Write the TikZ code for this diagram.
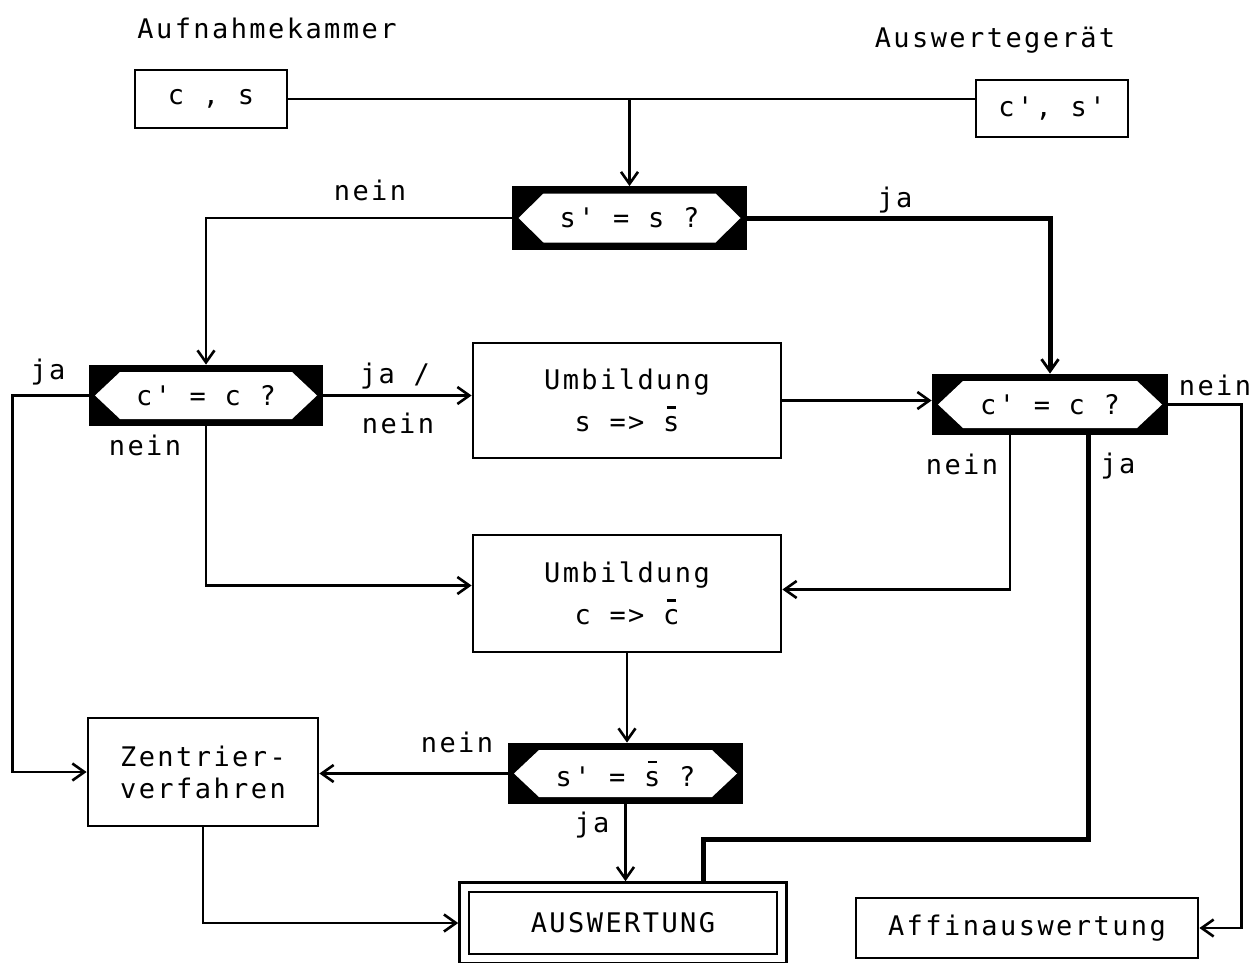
\documentclass[tikz,border=0pt]{standalone}
\usepackage{fontspec}
\setmonofont{DejaVu Sans Mono}[LetterSpace=9]
\usetikzlibrary{arrows.meta,fit}
\newcommand\barred[1]{\leavevmode\rlap{\kern0.14em\raisebox{0.85em}{\rule{0.32em}{2.6pt}}}#1}
\begin{document}
\begin{tikzpicture}[x=1pt,y=-1pt,
  every node/.style={font=\ttfamily\fontsize{27}{32}\selectfont},
  conn/.style={line width=2.8pt},
  arr/.style={conn,-{Straight Barb[length=12pt,width=17pt,line width=2.6pt]}},
  jaline/.style={line width=5pt},
  box/.style={draw,line width=2.8pt,inner sep=0pt},
  lbl/.style={inner sep=0pt},
  decision/.style={draw,line width=2.8pt,fill=black,inner sep=0pt,
    path picture={\fill[white]
      ([xshift=5pt]path picture bounding box.west) --
      ([xshift=30pt,yshift=-6pt]path picture bounding box.north west) --
      ([xshift=-30pt,yshift=-6pt]path picture bounding box.north east) --
      ([xshift=-5pt]path picture bounding box.east) --
      ([xshift=-30pt,yshift=6pt]path picture bounding box.south east) --
      ([xshift=30pt,yshift=6pt]path picture bounding box.south west) -- cycle;}}
]
\useasboundingbox (0,0) rectangle (1260,963);
\fill[white] (0,0) rectangle (1260,963);

% headings
\node[lbl] (tA) at (267,28) {Aufnahmekammer};
\node[lbl] (tB) at (995,40) {Auswertegerät};

% boxes
\node[box,minimum width=152pt,minimum height=58pt] (cs) at (211,99) {c , s};
\node[box,minimum width=152pt,minimum height=57pt] (csp) at (1052,108.5) {c', s'};
\node[decision,minimum width=232pt,minimum height=61pt] (d1) at (629.5,218) {s' = s ?};
\node[decision,minimum width=232pt,minimum height=59pt] (d2) at (206,395.5) {c' = c ?};
\node[box,minimum width=308pt,minimum height=115pt,align=center] (us) at (627,400.5) {Umbildung\\[10pt]s => \barred{s}};
\node[decision,minimum width=234pt,minimum height=59pt] (d3) at (1050,404.5) {c' = c ?};
\node[box,minimum width=308pt,minimum height=117pt,align=center] (uc) at (627,593.5) {Umbildung\\[10pt]c => \barred{c}};
\node[decision,minimum width=233pt,minimum height=59pt] (d4) at (625.5,773.5) {s' = \barred{s} ?};
\node[box,minimum width=230pt,minimum height=108pt,align=center] (zv) at (203,772) {Zentrier-\\verfahren};
\node[box,minimum width=308pt,minimum height=62pt] (aw) at (623,923) {AUSWERTUNG};
\node[box,fit=(aw),inner sep=8pt] (awo) {};
\node[box,minimum width=342pt,minimum height=60pt] (af) at (1027,928) {Affinauswertung};

% connectors
\draw[conn] (cs.east) -- (cs.east -| csp.west);
\draw[arr] (d1.north |- cs.east) -- (d1.north);
\draw[arr] (d1.west) -| (d2.north);
\draw[jaline,-{Straight Barb[length=12pt,width=17pt,line width=2.8pt]}] (d1.east) -| (d3.north);
\draw[arr] (d2.west) -- ++(-76,0) |- (zv.west);
\draw[arr] (d2.south) |- ([yshift=8pt]uc.west);
\draw[arr] (d2.east) -- (d2.east -| us.west);
\draw[arr] (us.east) -- (us.east -| d3.west);
\draw[arr] (d3.east) -- ++(73,0) |- (af.east);
\draw[arr] ([xshift=-40pt]d3.south) |- ([yshift=4pt]uc.east);
\draw[jaline] ([xshift=38pt]d3.south) -- ++(0,404) -| ([xshift=80pt]awo.north);
\draw[arr] (uc.south) -- (uc.south |- d4.north);
\draw[arr] (d4.west) -- (d4.west -| zv.east);
\draw[arr] (d4.south) -- (d4.south |- awo.north);
\draw[arr] (zv.south) |- (awo.west);

% labels
\node[lbl] (l1) at (370,190) {nein};
\node[lbl] (l2) at (895,200) {ja};
\node[lbl] (l3) at (48,372) {ja};
\node[lbl] (l4) at (145,445) {nein};
\node[lbl] (l5) at (395,376) {ja /};
\node[lbl] (l6) at (398,423) {nein};
\node[lbl] (l7) at (1215,385) {nein};
\node[lbl] (l8) at (962,464) {nein};
\node[lbl] (l9) at (1118,466) {ja};
\node[lbl] (l10) at (457,742) {nein};
\node[lbl] (l11) at (592,825) {ja};
\end{tikzpicture}
\end{document}
